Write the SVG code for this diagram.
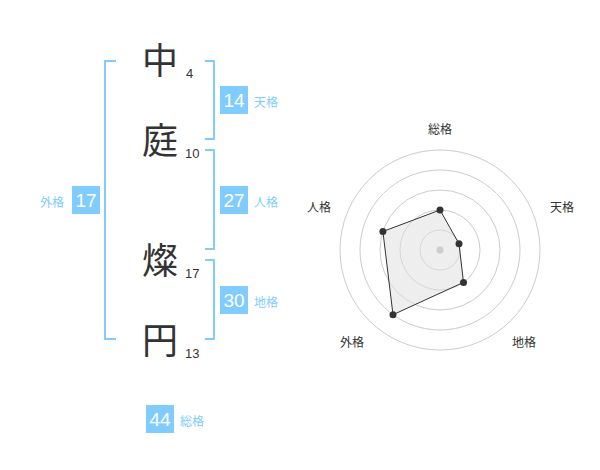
<svg xmlns="http://www.w3.org/2000/svg" width="600" height="470" viewBox="0 0 600 470">
<style>
.kanji{font-family:"Noto Sans CJK JP","Liberation Sans",sans-serif;font-size:36px;fill:#333}
.num{font-family:"Liberation Sans",sans-serif;font-size:13px;fill:#333}
.box{fill:#80ccff}
.bnum{font-family:"Liberation Sans",sans-serif;font-size:19px;fill:#fff;text-anchor:middle}
.blab{font-family:"Noto Sans CJK JP",sans-serif;font-size:12px;fill:#80ccff}
.br{fill:none;stroke:#80ccff;stroke-width:2}
.ring{fill:none;stroke:#ccc;stroke-width:1}
.rlab{font-family:"Noto Sans CJK JP",sans-serif;font-size:12px;fill:#333;text-anchor:middle}
.pt{fill:#333}
</style>
<rect width="600" height="470" fill="#fff"/>
<g id="connectors">
<path class="br" d="M116,61 H105 V339 H116"/>
<path class="br" d="M205,61 H214 V139 H205"/>
<path class="br" d="M205,150 H214 V249 H205"/>
<path class="br" d="M205,260 H214 V339 H205"/>
</g>
<g id="char1"><text class="kanji" x="160" y="74" text-anchor="middle">中</text><text class="num" x="186" y="78">4</text></g>
<g id="char2"><text class="kanji" x="160" y="154" text-anchor="middle">庭</text><text class="num" x="185" y="158">10</text></g>
<g id="char3"><text class="kanji" x="160" y="274" text-anchor="middle">燦</text><text class="num" x="185" y="278">17</text></g>
<g id="char4"><text class="kanji" x="160" y="354" text-anchor="middle">円</text><text class="num" x="185" y="358">13</text></g>
<g id="tenkaku"><rect class="box" x="220" y="86" width="28" height="28"/><text class="bnum" x="234" y="107">14</text><text class="blab" x="254" y="107">天格</text></g>
<g id="jinkaku"><rect class="box" x="220" y="186" width="28" height="28"/><text class="bnum" x="234" y="207">27</text><text class="blab" x="254" y="207">人格</text></g>
<g id="chikaku"><rect class="box" x="220" y="286" width="28" height="28"/><text class="bnum" x="234" y="307">30</text><text class="blab" x="254" y="307">地格</text></g>
<g id="gaikaku"><rect class="box" x="72" y="186" width="28" height="28"/><text class="bnum" x="86" y="207">17</text><text class="blab" x="40" y="207">外格</text></g>
<g id="soukaku"><rect class="box" x="146" y="405" width="28" height="28"/><text class="bnum" x="160" y="426">44</text><text class="blab" x="180" y="426">総格</text></g>
<g id="radar">
<circle class="ring" cx="440" cy="250" r="20"/>
<circle class="ring" cx="440" cy="250" r="40"/>
<circle class="ring" cx="440" cy="250" r="60"/>
<circle class="ring" cx="440" cy="250" r="80"/>
<circle class="ring" cx="440" cy="250" r="100"/>
<polygon points="440,210 459,243.8 463.5,282.4 393,314.7 382.9,231.5" fill="#ddd" fill-opacity="0.5" stroke="#333" stroke-width="1"/>
<circle cx="440" cy="250" r="3.5" fill="#ccc"/>
<circle class="pt" cx="440" cy="210" r="3.5"/>
<circle class="pt" cx="459" cy="243.8" r="3.5"/>
<circle class="pt" cx="463.5" cy="282.4" r="3.5"/>
<circle class="pt" cx="393" cy="314.7" r="3.5"/>
<circle class="pt" cx="382.9" cy="231.5" r="3.5"/>
<text class="rlab" x="440" y="134">総格</text>
<text class="rlab" x="562" y="212">天格</text>
<text class="rlab" x="524" y="347">地格</text>
<text class="rlab" x="352" y="347">外格</text>
<text class="rlab" x="319" y="212">人格</text>
</g>
</svg>
